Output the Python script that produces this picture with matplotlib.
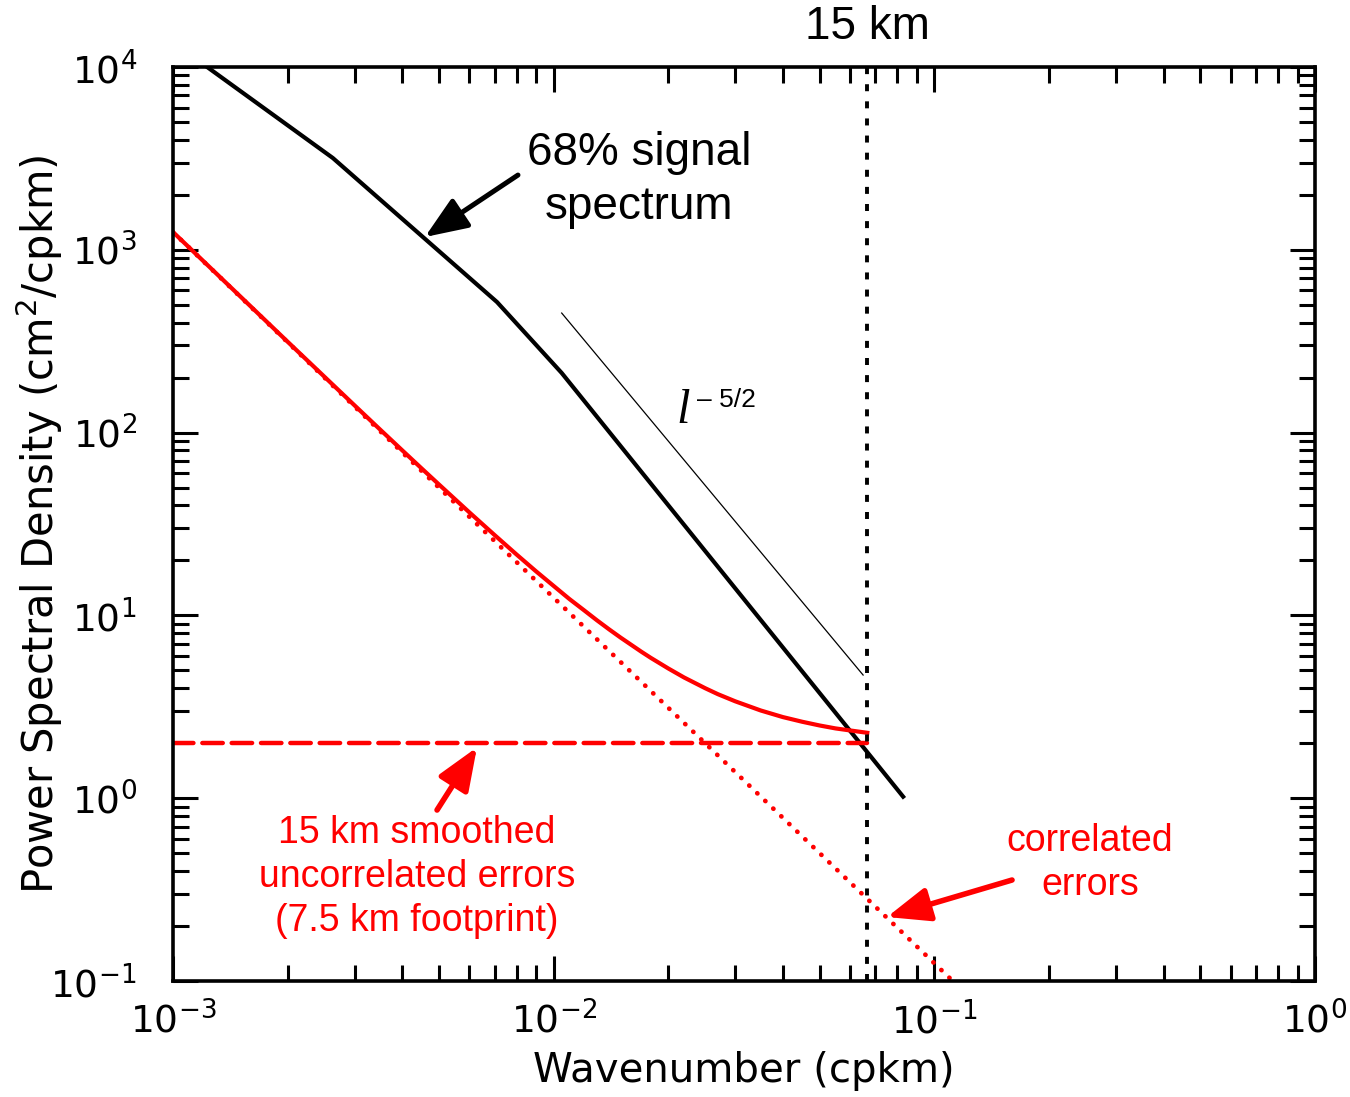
import matplotlib
matplotlib.use('Agg')
import matplotlib.pyplot as plt
from matplotlib.ticker import LogLocator, FixedLocator, FixedFormatter, NullFormatter

plt.rcParams['mathtext.fontset'] = 'dejavusans'

# 68% signal spectrum (black)
signal_k = [0.00123, 0.00263, 0.0071, 0.0105, 0.0828]
signal_psd = [1.0e4, 3180, 518, 212, 1.02]

# l^-5/2 reference slope
slope_k = [0.0105, 0.065]
slope_psd = [451, 4.72]

# correlated errors (red dotted)
corr_k = [0.001, 0.112]
corr_psd = [1250, 0.0997]

# 15 km smoothed uncorrelated errors (red dashed)
uncorr_k = [0.001, 1 / 15]
uncorr_psd = [2.0, 2.0]

# total error (red solid)
total_k = [0.001, 0.0015, 0.002, 0.003, 0.0035, 0.004, 0.0045, 0.005, 0.006,
           0.007, 0.008, 0.009, 0.01, 0.011, 0.012, 0.013, 0.014, 0.015,
           0.017, 0.018, 0.02, 0.022, 0.025, 0.027, 0.03, 0.035, 0.04,
           0.045, 0.05, 0.055, 0.06, 1 / 15]
total_psd = [1252, 558, 314.5, 140.9, 104, 80.1, 63.7, 52, 36.7,
             27.5, 21.5, 17.4, 14.5, 12.3, 10.7, 9.40, 8.38, 7.56,
             6.33, 5.86, 5.13, 4.58, 4.0, 3.71, 3.39, 3.02, 2.78,
             2.62, 2.5, 2.41, 2.35, 2.28]

cutoff_k = 1 / 15

xticks = [1e-3, 1e-2, 1e-1, 1e0]
xlabels = [r'$10^{-3}$', r'$10^{-2}$', r'$10^{-1}$', r'$10^{0}$']
yticks = [1e-1, 1e0, 1e1, 1e2, 1e3, 1e4]
ylabels = [r'$10^{-1}$', r'$10^{0}$', r'$10^{1}$', r'$10^{2}$', r'$10^{3}$', r'$10^{4}$']

fig = plt.figure(figsize=(13.5, 10.97), dpi=100)
ax = fig.add_axes([0.1281, 0.1057, 0.8460, 0.8332])
ax.set_xscale('log')
ax.set_yscale('log')
ax.set_xlim(1e-3, 1e0)
ax.set_ylim(1e-1, 1e4)

ax.plot(signal_k, signal_psd, color='black', lw=3.0, solid_joinstyle='miter')
ax.plot(slope_k, slope_psd, color='black', lw=0.9)
ax.plot(corr_k, corr_psd, color='red', lw=3.4, linestyle=(0, (0.05, 2.3)),
        dash_capstyle='round')
ax.plot(uncorr_k, uncorr_psd, color='red', lw=3.2, linestyle=(0, (4.6, 2.0)),
        dash_capstyle='round')
ax.plot(total_k, total_psd, color='red', lw=3.0)
ax.axvline(cutoff_k, color='black', lw=2.8, linestyle=(0, (1.8, 2.6)))

# axes styling
for s in ax.spines.values():
    s.set_linewidth(2.6)
ax.xaxis.set_major_locator(FixedLocator(xticks))
ax.xaxis.set_major_formatter(FixedFormatter(xlabels))
ax.yaxis.set_major_locator(FixedLocator(yticks))
ax.yaxis.set_major_formatter(FixedFormatter(ylabels))
ax.xaxis.set_minor_locator(LogLocator(base=10, subs=range(2, 10), numticks=20))
ax.yaxis.set_minor_locator(LogLocator(base=10, subs=range(2, 10), numticks=20))
ax.xaxis.set_minor_formatter(NullFormatter())
ax.yaxis.set_minor_formatter(NullFormatter())
ax.tick_params(which='both', direction='in', top=True, right=True, width=2.2)
ax.tick_params(which='major', length=18)
ax.tick_params(which='minor', length=11.5)
ax.tick_params(axis='x', which='major', pad=15, labelsize=27)
ax.tick_params(axis='y', which='major', pad=26, labelsize=27)

ax.set_xlabel('Wavenumber (cpkm)', fontsize=29, family='DejaVu Sans', va='center')
ax.xaxis.set_label_coords(0.5, -0.0985)
ax.set_ylabel(r'Power Spectral Density (cm$^{2}$/cpkm)', fontsize=30,
              family='DejaVu Sans', va='center')
ax.yaxis.set_label_coords(-0.117, 0.5)

# annotations
ax.text(cutoff_k, 1.0438, '15 km', transform=ax.get_xaxis_transform(),
        ha='center', va='center', fontsize=33, family='Liberation Sans')

ax.text(0.408, 0.876, '68% signal\nspectrum', transform=ax.transAxes,
        ha='center', va='center', fontsize=33, family='Liberation Sans',
        linespacing=1.3)
ax.annotate('', xy=(4.59e-3, 1175), xytext=(8.06e-3, 2565),
            arrowprops=dict(arrowstyle='-|>,head_length=1.0,head_width=0.4',
                            color='black', lw=3.6, mutation_scale=26,
                            shrinkA=0, shrinkB=0))

ax.text(0.4466, 0.6105, 'l', transform=ax.transAxes, ha='center',
        va='baseline', fontsize=35, family='Liberation Serif', style='italic')
ax.text(0.4588, 0.628, '\u2013 5/2', transform=ax.transAxes, ha='left',
        va='baseline', fontsize=19, family='Liberation Sans')

ax.text(0.2137, 0.1138, '15 km smoothed\nuncorrelated errors\n(7.5 km footprint)',
        transform=ax.transAxes, ha='center', va='center', fontsize=27,
        family='Liberation Sans', color='red', linespacing=1.3)
ax.annotate('', xy=(6.29e-3, 1.9), xytext=(4.94e-3, 0.862),
            arrowprops=dict(arrowstyle='-|>,head_length=1.0,head_width=0.4',
                            color='red', lw=4.0, mutation_scale=26,
                            shrinkA=0, shrinkB=0))

ax.text(0.803, 0.129, 'correlated\nerrors', transform=ax.transAxes,
        ha='center', va='center', fontsize=27, family='Liberation Sans',
        color='red', linespacing=1.3)
ax.annotate('', xy=(0.0751, 0.224), xytext=(0.16, 0.357),
            arrowprops=dict(arrowstyle='-|>,head_length=1.0,head_width=0.4',
                            color='red', lw=4.0, mutation_scale=26,
                            shrinkA=0, shrinkB=0))

fig.savefig('out.png', dpi=100)
